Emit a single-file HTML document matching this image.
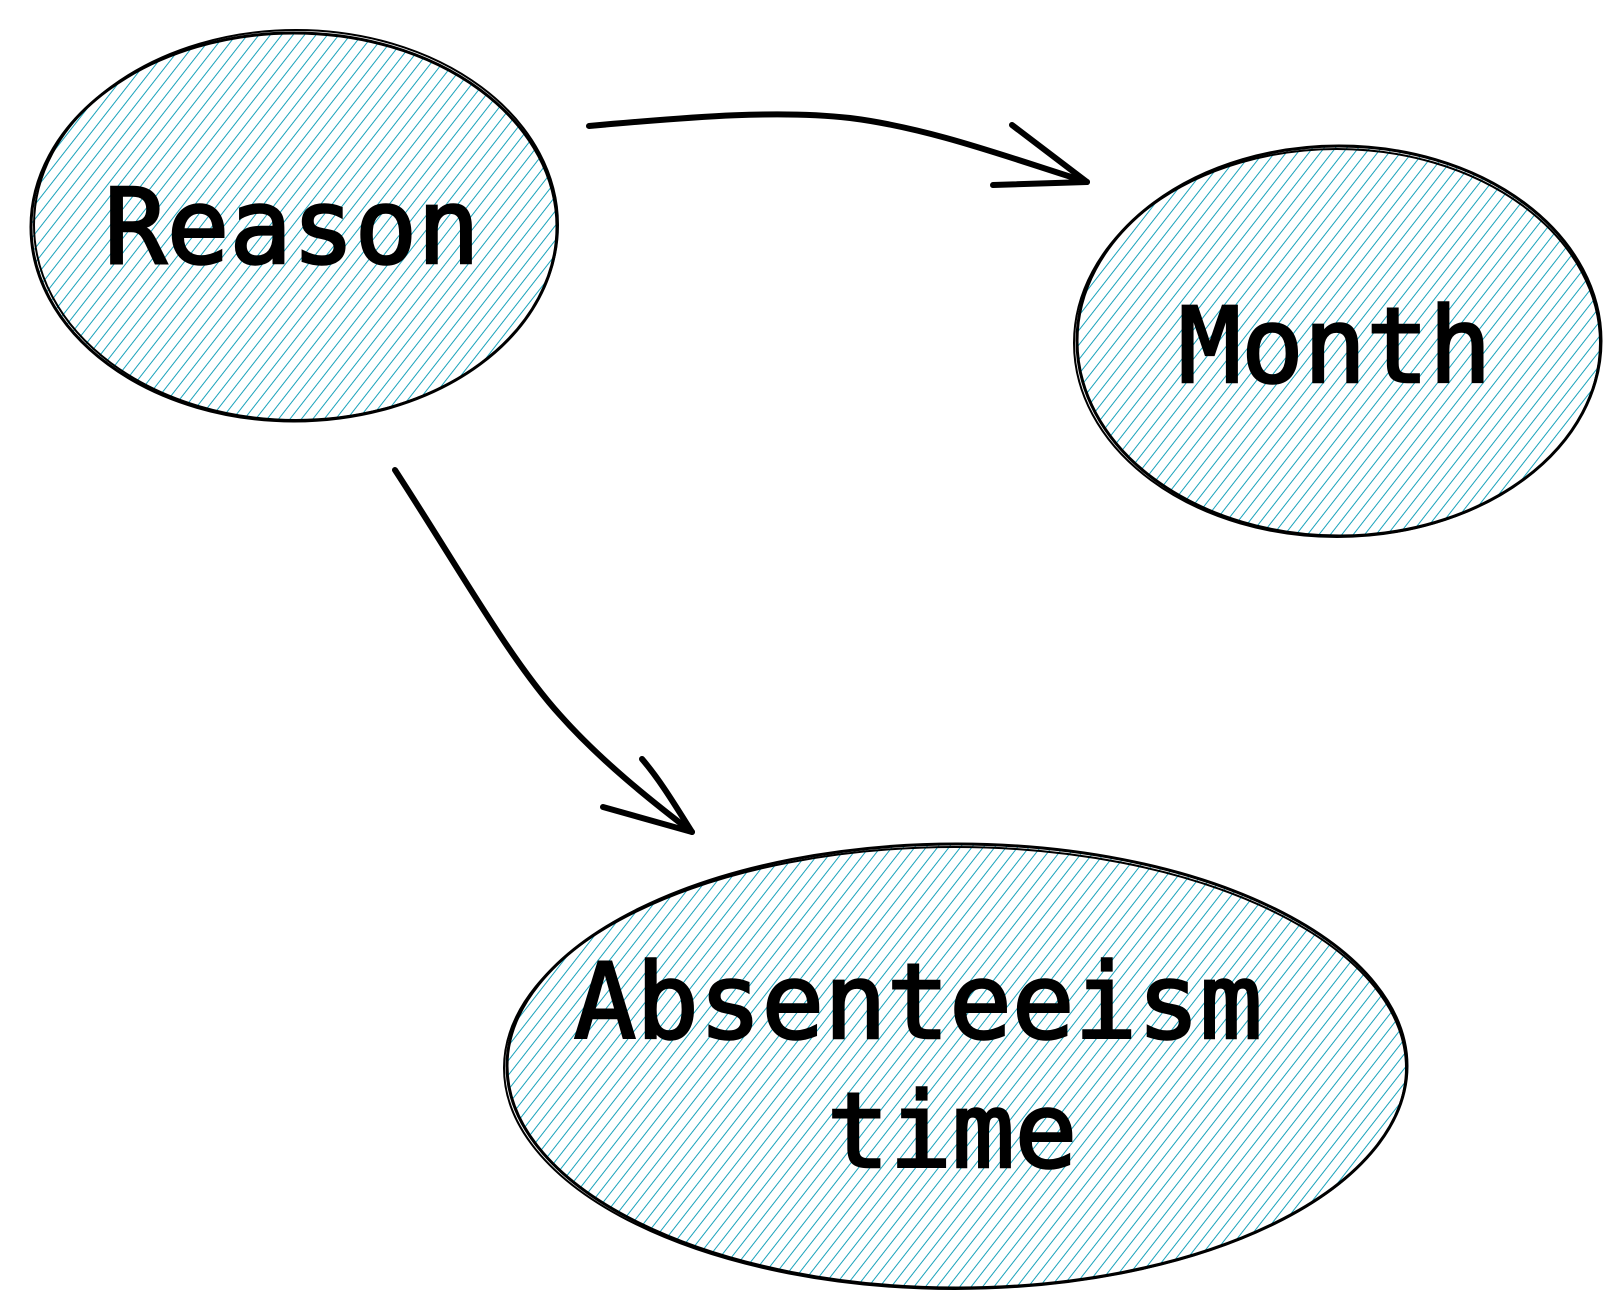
<!DOCTYPE html>
<html><head><style>html,body{margin:0;padding:0;background:#fff}</style></head><body>
<svg width="1623" height="1311" viewBox="0 0 1623 1311" xmlns="http://www.w3.org/2000/svg">
<defs>
<pattern id="h" width="9" height="9" patternUnits="userSpaceOnUse" patternTransform="rotate(38)">
<line x1="0" y1="0" x2="0" y2="9" stroke="#1aa3bb" stroke-width="2"/>
</pattern>
</defs>
<g stroke="#000" stroke-width="3" fill="url(#h)">
<ellipse cx="294" cy="227" rx="263" ry="194"/>
<ellipse cx="1339" cy="341" rx="262" ry="195"/>
<ellipse cx="957" cy="1066" rx="450" ry="222"/>
</g>
<g stroke="#000" stroke-width="2" fill="none">
<ellipse cx="296" cy="225" rx="262" ry="195"/>
<ellipse cx="1337" cy="343" rx="263" ry="194"/>
<ellipse cx="955" cy="1068" rx="451" ry="221"/>
</g>
<g stroke="#000" stroke-width="6" fill="none" stroke-linecap="round">
<path d="M589 126 C700 116 780 110 850 118 C930 128 1010 158 1087 182"/>
<path d="M1012 125 L1087 182 M993 185 L1087 182"/>
<path d="M395 470 C460 570 510 660 560 715 C600 760 650 800 692 832"/>
<path d="M642 759 C660 780 675 805 692 832 M603 807 L692 832"/>
</g>
<g font-family="'DejaVu Sans Mono','Liberation Mono',monospace" font-size="104" fill="#000" stroke="#000" stroke-width="2.5" text-anchor="middle">
<text x="292" y="263">Reason</text>
<text x="1335" y="382">Month</text>
<text x="918" y="1038">Absenteeism</text>
<text x="952" y="1167">time</text>
</g>
</svg>
</body></html>
